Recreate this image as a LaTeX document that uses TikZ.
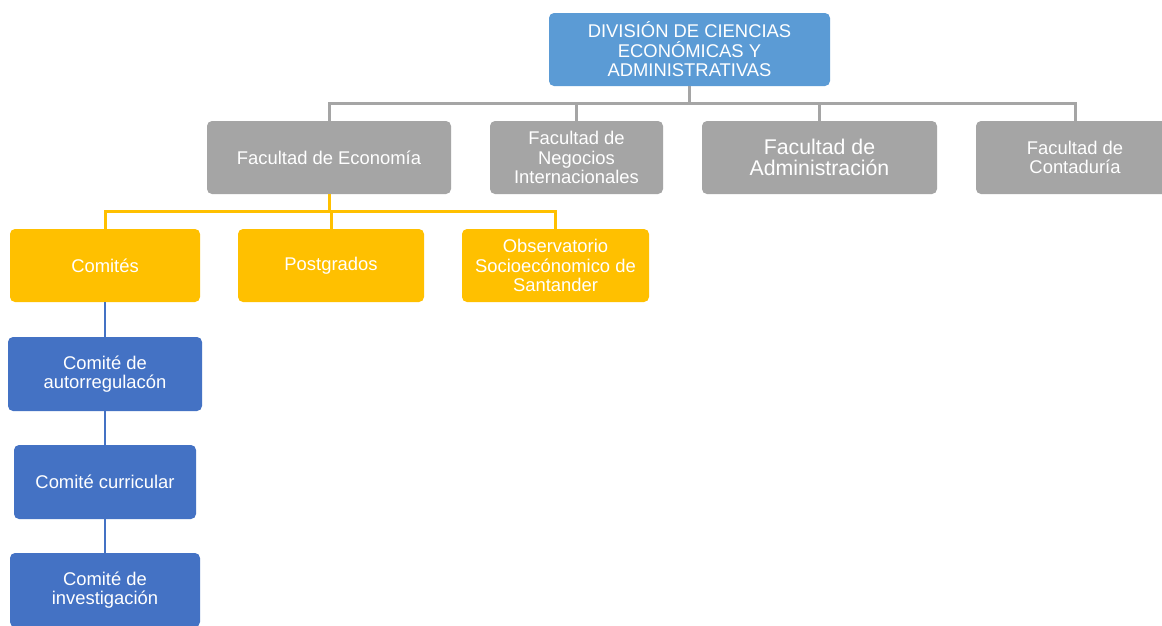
\documentclass[tikz,border=0pt]{standalone}
\usepackage{fontspec}
\setmainfont{Liberation Sans}
\definecolor{topblue}{HTML}{5B9BD5}
\definecolor{grayc}{HTML}{A5A5A5}
\definecolor{yellowc}{HTML}{FFC000}
\definecolor{darkblue}{HTML}{4472C4}
\tikzset{
  box/.style={rounded corners=5pt, inner sep=0pt, align=center, text=white,
    font=\fontsize{18.4}{19.5}\selectfont},
  topbox/.style={box, fill=topblue},
  graybox/.style={box, fill=grayc},
  yelbox/.style={box, fill=yellowc},
  bluebox/.style={box, fill=darkblue},
  gline/.style={draw=grayc, line width=3pt},
  yline/.style={draw=yellowc, line width=3pt},
  bline/.style={draw=darkblue, line width=2.5pt},
}
\begin{document}
\begin{tikzpicture}[x=1pt,y=-1pt]
\clip (0,0) rectangle (1162,625);
\fill[white] (0,0) rectangle (1162,625);
% nodes
\node[topbox, minimum width=281pt, minimum height=73pt] (top) at (689.5,49.5) {DIVISIÓN DE CIENCIAS\\ECONÓMICAS Y\\ADMINISTRATIVAS};
\node[graybox, minimum width=244pt, minimum height=73pt] (eco) at (329,157.5) {Facultad de Economía};
\node[graybox, minimum width=173pt, minimum height=73pt] (neg) at (576.5,157.5) {Facultad de\\Negocios\\Internacionales};
\node[graybox, minimum width=235pt, minimum height=73pt, font=\fontsize{21.3}{21}\selectfont] (adm) at (819.5,157.5) {Facultad de\\Administración};
\node[graybox, minimum width=198pt, minimum height=73pt] (cont) at (1075,157.5) {Facultad de\\Contaduría};
\node[yelbox, minimum width=190pt, minimum height=73pt] (com) at (105,265.5) {Comités};
\node[yelbox, minimum width=186pt, minimum height=73pt] (post) at (331,265.5) {Postgrados};
\node[yelbox, minimum width=187pt, minimum height=73pt] (obs) at (555.5,265.5) {Observatorio\\Socioecónomico de\\Santander};
\node[bluebox, minimum width=194pt, minimum height=74pt] (auto) at (105,374) {Comité de\\autorregulacón};
\node[bluebox, minimum width=182pt, minimum height=74pt] (curr) at (105,482) {Comité curricular};
\node[bluebox, minimum width=190pt, minimum height=74pt] (inv) at (105,590) {Comité de\\investigación};
% gray connectors
\coordinate (gbus) at (0,103);
\draw[gline] (top.south) -- (top.south |- gbus);
\draw[gline] (eco.north) -- (eco.north |- gbus) -- (cont.north |- gbus) -- (cont.north);
\draw[gline] (neg.north) -- (neg.north |- gbus);
\draw[gline] (adm.north) -- (adm.north |- gbus);
% yellow connectors
\coordinate (ybus) at (0,211);
\draw[yline] (eco.south) -- (eco.south |- ybus);
\draw[yline] (com.north) -- (com.north |- ybus) -- (obs.north |- ybus) -- (obs.north);
\draw[yline] (post.north) -- (post.north |- ybus);
% blue connectors
\draw[bline] (com.south) -- (auto.north);
\draw[bline] (auto.south) -- (curr.north);
\draw[bline] (curr.south) -- (inv.north);
\end{tikzpicture}
\end{document}
